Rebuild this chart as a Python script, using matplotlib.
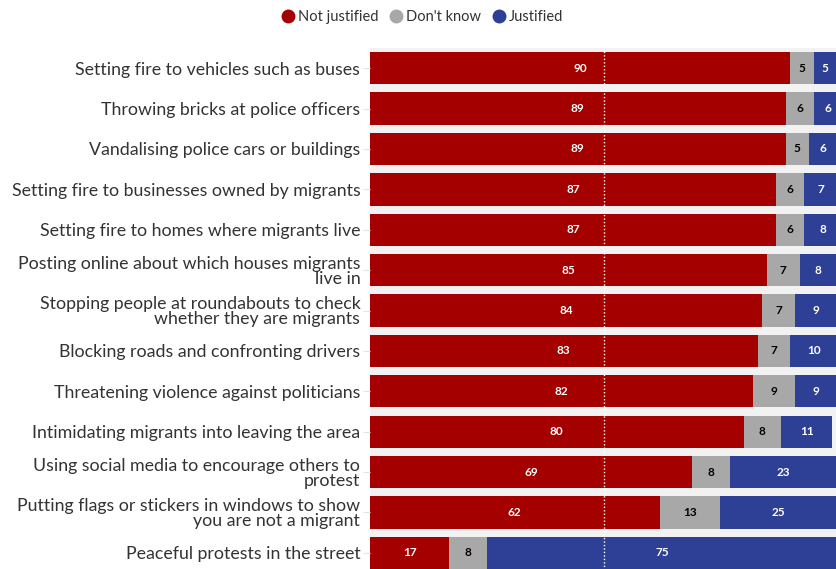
import matplotlib.pyplot as plt
from matplotlib.lines import Line2D

plt.rcParams['font.family'] = ['Lato', 'DejaVu Sans']

labels = ['Setting fire to vehicles such as buses',
          'Throwing bricks at police officers',
          'Vandalising police cars or buildings',
          'Setting fire to businesses owned by migrants',
          'Setting fire to homes where migrants live',
          'Posting online about which houses migrants\nlive in',
          'Stopping people at roundabouts to check\nwhether they are migrants',
          'Blocking roads and confronting drivers',
          'Threatening violence against politicians',
          'Intimidating migrants into leaving the area',
          'Using social media to encourage others to\nprotest',
          'Putting flags or stickers in windows to show\nyou are not a migrant',
          'Peaceful protests in the street']
not_justified = [90, 89, 89, 87, 87, 85, 84, 83, 82, 80, 69, 62, 17]
dont_know = [5, 6, 5, 6, 6, 7, 7, 7, 9, 8, 8, 13, 8]
justified = [5, 6, 6, 7, 8, 8, 9, 10, 9, 11, 23, 25, 75]

red = '#a40000'
grey = '#a8a8a8'
blue = '#2e3f96'

fig = plt.figure(figsize=(8.37, 5.69), dpi=100)
ax = fig.add_axes([370 / 837, -4 / 569, 467 / 837, 525 / 569])
ax.set_facecolor('#f2f2f2')

y = list(range(len(labels)))
left2 = [a + b for a, b in zip(not_justified, dont_know)]
ax.barh(y, not_justified, height=0.8, color=red)
ax.barh(y, dont_know, left=not_justified, height=0.8, color=grey)
ax.barh(y, justified, left=left2, height=0.8, color=blue)

# dotted midpoint marker
ax.axvline(50, color='white', lw=1, ls=(0, (1, 1.5)), zorder=3)

for i in y:
    a, b, c = not_justified[i], dont_know[i], justified[i]
    kw = dict(va='center', ha='center', fontsize=8.5, fontweight='bold', zorder=4)
    ax.text(a / 2, i, str(a), color='white', **kw)
    ax.text(a + b / 2, i, str(b), color='black', **kw)
    ax.text(a + b + c / 2, i, str(c), color='white', **kw)

ax.set_xlim(0, 100)
ax.set_ylim(len(labels) - 0.5, -0.5)
ax.set_yticks(y)
ax.set_yticklabels(labels, fontsize=12.8, color='#333333', linespacing=0.95)
ax.tick_params(axis='y', length=5, color='#e4e4e4', pad=2)
ax.set_xticks([])
for s in ax.spines.values():
    s.set_visible(False)

handles = [Line2D([], [], marker='o', ls='', color=c, markersize=9)
           for c in (red, grey, blue)]
fig.legend(handles, ['Not justified', "Don't know", 'Justified'],
           loc='center', bbox_to_anchor=(0.5, 1 - 17 / 569), ncol=3,
           frameon=False, fontsize=10.5, handletextpad=-0.3, columnspacing=0.2,
           labelcolor='#333333')

fig.savefig('out.png', dpi=100)
